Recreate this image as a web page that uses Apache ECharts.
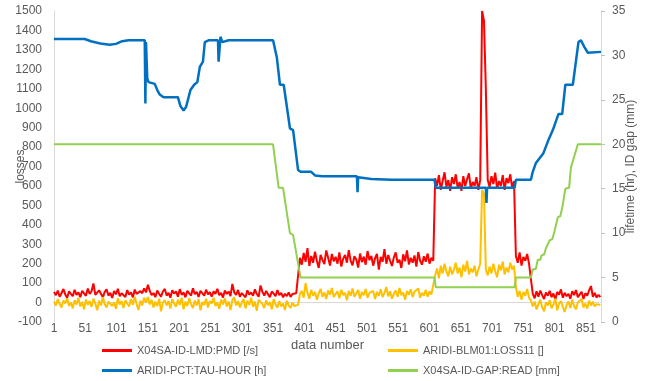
<!DOCTYPE html>
<html><head><meta charset="utf-8">
<script src="https://cdn.jsdelivr.net/npm/echarts@6/dist/echarts.min.js"></script>
<style>html,body{margin:0;padding:0;background:#fff}#c{width:646px;height:381px}</style>
</head><body><div id="c"></div>
<script>
// sampling step of the noisy series (data number = 1 + STEP*i)
const STEP = 3;
const LAST_N = 875;

// X04SA-ID-LMD:PMD [/s]  (left axis)
const redLoss = [
 55,38,62,30,48,70,42,25,58,45,
 33,66,40,52,28,61,47,35,72,44,
 58,98,40,30,63,45,27,55,68,36,
 50,24,60,42,71,33,48,57,29,64,
 41,53,26,67,45,35,59,48,73,52,
 92,60,38,49,28,62,44,31,57,70,
 36,50,25,63,46,58,30,69,40,52,
 27,61,47,36,74,43,55,29,60,48,
 35,66,42,53,30,58,45,71,38,50,
 26,62,44,57,33,96,52,40,65,30,
 49,58,27,63,41,52,35,68,44,30,
 88,55,36,60,42,28,57,46,33,64,
 38,50,27,45,33,52,29,44,36,48,
 40,
 230,195,255,210,280,188,240,205,262,215,
 178,245,220,198,268,230,190,250,212,235,
 200,258,185,225,245,205,270,215,192,238,
 222,180,252,208,236,195,265,218,240,190,
 228,250,170,235,210,275,200,245,215,188,
 232,258,205,220,178,248,212,268,196,230,
 205,242,185,260,215,195,238,210,252,200,
 230,215,
 640,600,655,580,625,670,595,630,575,645,
 610,660,590,620,575,650,600,635,665,585,
 620,600,645,580,630,
 1500,1450,1100,630,
 595,650,610,668,585,625,600,655,580,640,
 615,660,590,625,
 240,205,258,190,235,215,250,200,
 120,45,22,58,30,62,38,18,52,35,
 60,28,47,15,55,40,68,25,50,33,
 45,20,58,38,64,27,42,55,18,48,
 36,62,85,30,50,26,40,28
];

// ARIDI-BLM01:LOSS11 []  (left axis)
const yellowLoss = [
 5,-15,18,-8,-25,10,-5,22,-18,0,
 -30,12,-10,25,-20,3,-35,15,-12,8,
 -22,20,-5,-40,10,-15,28,-8,-25,5,
 15,-18,0,-32,22,-10,8,-28,12,-5,
 -20,18,-12,30,-8,-38,10,-15,25,0,
 28,-10,15,-25,5,-18,20,-45,0,12,
 -15,8,-30,18,-5,-22,15,-12,25,-35,
 5,-18,22,-8,-28,10,-15,18,-40,2,
 -12,20,-25,8,-5,25,-18,0,-32,15,
 -10,22,-20,5,-38,12,28,-15,8,-25,
 0,18,-30,10,-12,25,-22,5,-42,15,
 20,-8,-28,12,-15,3,-35,18,-10,-25,
 8,-20,-5,-38,10,-15,-28,0,-18,-8,
 -12,
 45,60,25,100,50,20,65,35,55,15,
 48,70,30,52,18,62,40,75,28,45,
 58,22,66,38,50,12,60,35,72,30,
 48,65,20,55,38,70,25,50,42,60,
 18,55,35,68,28,50,80,32,58,20,
 45,62,30,75,38,52,15,60,40,68,
 28,55,45,72,25,50,35,65,30,58,
 42,50,
 140,175,125,190,150,200,160,135,185,145,
 170,205,150,180,130,195,160,215,145,175,
 155,190,135,170,200,
 580,560,170,140,
 185,150,200,160,130,195,165,210,145,180,
 155,205,170,190,
 80,30,60,15,55,35,70,25,
 10,-20,5,-35,-8,15,-25,-45,0,-15,
 12,-30,-10,20,-40,-5,8,-22,-48,-12,
 5,-28,15,-18,-35,0,-10,18,-25,-5,
 -30,10,-15,5,-20,-8,0,-12
];

// ARIDI-PCT:TAU-HOUR [h]  (right axis) as [data number, hours]
const blueTau = [
 [1,31.85],[50,31.85],[60,31.6],[75,31.35],[90,31.2],[100,31.3],[110,31.6],[120,31.7],
 [146,31.7],[147,24.6],[148,31.5],[150,27.4],[152,27.0],[155,26.9],[162,26.8],[166,26.1],
 [170,25.6],[176,25.3],[199,25.3],[203,24.3],[208,23.8],[212,24.2],[219,26.1],[225,26.7],
 [230,27.0],[234,28.7],[239,29.3],[242,31.5],[248,31.7],[263,31.7],[264,29.3],[266,29.5],
 [267,32.1],[270,31.5],[280,31.7],[351,31.7],[357,29.8],[362,26.7],[368,26.7],[378,21.8],
 [383,21.6],[391,17.1],[395,16.9],[412,16.9],[418,16.5],[430,16.4],[485,16.4],[486,14.6],
 [487,16.3],[508,16.1],[540,16.0],[609,16.0],[611,15.1],[691,15.1],[692,13.4],[693,15.1],
 [737,15.1],[739,16.0],[763,16.0],[766,16.9],[771,17.9],[783,19.0],[790,20.3],[798,21.6],
 [807,23.4],[813,23.4],[818,26.7],[830,26.7],[839,31.5],[843,31.7],[848,31.0],[854,30.3],
 [875,30.4]
];

// X04SA-ID-GAP:READ [mm]  (right axis) as [data number, mm]
const greenGap = [
 [1,20],[351,20],[360,15.1],[367,15.1],[378,10.0],[383,9.8],[395,5.0],[609,5.0],
 [611,3.9],[737,3.9],[739,5.0],[763,5.0],[766,5.9],[771,6.0],[774,7.0],[778,7.0],
 [780,7.5],[784,7.6],[787,8.3],[790,8.4],[793,9.2],[797,9.3],[800,10.0],[803,10.1],
 [806,11.8],[810,11.9],[814,13.2],[818,15.0],[821,15.1],[824,15.1],[827,17.4],[838,20],
 [875,20]
];

const names = ['X04SA-ID-LMD:PMD [/s]','ARIDI-BLM01:LOSS11 []','ARIDI-PCT:TAU-HOUR [h]','X04SA-ID-GAP:READ [mm]'];
const colors = ['#FF0000','#FFC000','#0070C0','#92D050'];

const sampled = arr => arr.map((v,i) => [STEP*i, v]);
const byNumber = arr => arr.map(p => [p[0]-1, p[1]]);

const txt = '#595959';
const font = 'Liberation Sans, Arial, sans-serif';
const legendPos = [[102,345],[388,345],[102,365],[388,365]];

const chart = echarts.init(document.getElementById('c'), null, {renderer:'canvas'});
chart.setOption({
  animation:false,
  textStyle:{fontFamily:font},
  grid:{left:54,right:45,top:11,bottom:59,containLabel:false,outerBoundsMode:'none'},
  legend: names.map((n,i)=>({
    data:[n], left:legendPos[i][0], top:legendPos[i][1], padding:0,
    icon:'rect', itemWidth:30, itemHeight:3, itemGap:0,
    textStyle:{color:txt, fontSize:11, fontFamily:font}
  })),
  xAxis:{
    type:'value', min:0, max:LAST_N-1, interval:50,
    name:'data number', nameLocation:'middle', nameGap:17, nameMoveOverlap:false,
    nameTextStyle:{color:txt, fontSize:13, fontFamily:font},
    axisLine:{show:false}, axisTick:{show:false}, splitLine:{show:false},
    axisLabel:{color:txt, fontSize:12, margin:1, showMaxLabel:false, formatter:v=>String(v+1)}
  },
  yAxis:[{
    type:'value', min:-100, max:1500, interval:100, position:'left',
    name:'losses', nameLocation:'middle', nameRotate:90, nameGap:27, nameMoveOverlap:false,
    nameTextStyle:{color:txt, fontSize:12, fontFamily:font},
    axisLine:{show:true, lineStyle:{color:'#d9d9d9', width:1}},
    axisTick:{show:false}, splitLine:{show:false},
    axisLabel:{color:txt, fontSize:12, margin:12, formatter:v=>String(v)}
  },{
    type:'value', min:0, max:35, interval:5, position:'right',
    name:'lifetime (hr), ID gap (mm)', nameLocation:'middle', nameRotate:90, nameGap:24, nameMoveOverlap:false,
    nameTextStyle:{color:txt, fontSize:12, fontFamily:font},
    axisLine:{show:true, lineStyle:{color:'#d9d9d9', width:1}},
    axisTick:{show:true, length:4, lineStyle:{color:'#bfbfbf'}}, splitLine:{show:false},
    axisLabel:{color:txt, fontSize:12, margin:11, formatter:v=>String(v)}
  }],
  series:[
    {name:names[0], type:'line', yAxisIndex:0, data:sampled(redLoss), showSymbol:false,
     lineStyle:{color:colors[0], width:2}, itemStyle:{color:colors[0]},
     markLine:{silent:true, z:1, symbol:['none','none'], label:{show:false},
       lineStyle:{color:'#d9d9d9', type:'solid', width:1}, emphasis:{disabled:true}, data:[{yAxis:0}]}},
    {name:names[1], type:'line', yAxisIndex:0, data:sampled(yellowLoss), showSymbol:false,
     lineStyle:{color:colors[1], width:2}, itemStyle:{color:colors[1]}},
    {name:names[2], type:'line', yAxisIndex:1, data:byNumber(blueTau), showSymbol:false,
     lineStyle:{color:colors[2], width:2.5}, itemStyle:{color:colors[2]}},
    {name:names[3], type:'line', yAxisIndex:1, data:byNumber(greenGap), showSymbol:false,
     lineStyle:{color:colors[3], width:2}, itemStyle:{color:colors[3]}}
  ]
});
</script></body></html>
